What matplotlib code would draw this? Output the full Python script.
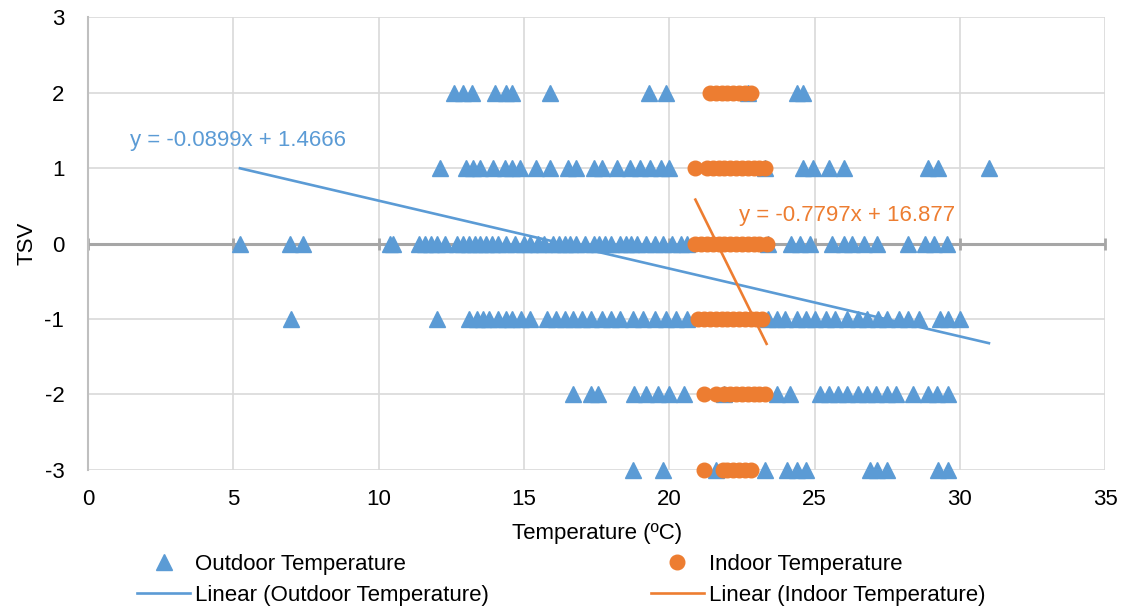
import numpy as np
import matplotlib.pyplot as plt

plt.rcParams['font.family'] = ['Liberation Sans', 'DejaVu Sans']
plt.rcParams['axes.unicode_minus'] = False

# TSV level -> outdoor temperatures
out_x = {
    2: [12.6, 12.9, 13.2, 14.0, 14.4, 14.6, 15.9, 19.3, 19.9, 22.7, 24.4, 24.6],
    1: [12.1, 13.0, 13.25, 13.5, 13.95, 14.35, 14.6, 14.85, 15.4, 15.9, 16.5, 16.8,
        17.4, 17.7, 18.2, 18.65, 19.0, 19.35, 19.7, 20.0, 23.3, 24.6, 24.95, 25.5,
        26.0, 28.9, 29.25, 31.0],
    0: [5.23, 6.95, 7.4, 10.4, 10.5, 11.4, 11.6, 11.8, 12.0, 12.3, 12.7, 12.9, 13.1,
        13.3, 13.5, 13.7, 13.9, 14.1, 14.4, 14.7, 15.0, 15.2, 15.5, 15.7, 16.0, 16.2,
        16.4, 16.6, 16.8, 17.1, 17.4, 17.6, 17.8, 18.0, 18.3, 18.5, 18.7, 18.9, 19.2,
        19.5, 19.8, 20.1, 20.4, 20.6, 23.4, 24.2, 24.5, 24.85, 25.6, 26.0, 26.3, 26.7,
        27.15, 28.2, 28.8, 29.1, 29.55],
    -1: [7.0, 12.0, 13.1, 13.4, 13.6, 13.8, 14.1, 14.4, 14.6, 14.9, 15.2, 15.8, 16.1,
         16.4, 16.7, 17.0, 17.3, 17.7, 18.0, 18.3, 18.75, 19.1, 19.5, 19.9, 20.25,
         20.6, 23.4, 23.7, 24.0, 24.4, 24.7, 25.0, 25.4, 25.7, 26.1, 26.5, 26.8, 27.2,
         27.5, 27.9, 28.2, 28.6, 29.3, 29.6, 30.0],
    -2: [16.7, 17.3, 17.55, 18.8, 19.2, 19.6, 20.0, 20.5, 21.9, 23.7, 24.15, 25.2,
         25.5, 25.8, 26.1, 26.5, 26.8, 27.1, 27.5, 27.8, 28.4, 28.9, 29.2, 29.6],
    -3: [18.75, 19.8, 21.6, 23.3, 24.05, 24.4, 24.7, 26.9, 27.15, 27.5, 29.25, 29.6],
}

# TSV level -> indoor temperatures
in_x = {
    2: [21.4, 21.6, 21.8, 22.0, 22.2, 22.4, 22.6, 22.8],
    1: [20.9, 21.3, 21.5, 21.7, 21.9, 22.1, 22.3, 22.5, 22.7, 22.9, 23.1, 23.3],
    0: [20.9, 21.1, 21.3, 21.5, 21.7, 21.9, 22.1, 22.3, 22.5, 22.7, 22.9, 23.1,
        23.35],
    -1: [21.0, 21.2, 21.4, 21.6, 21.8, 22.0, 22.2, 22.4, 22.6, 22.8, 23.0, 23.2],
    -2: [21.2, 21.6, 21.9, 22.1, 22.3, 22.5, 22.7, 22.9, 23.1, 23.3],
    -3: [21.2, 21.85, 22.0, 22.2, 22.4, 22.6, 22.8],
}

# trendline coefficients (slope, intercept) as shown on the chart
out_fit = (-0.0899, 1.4666)
in_fit = (-0.7797, 16.877)

blue = '#5B9BD5'
orange = '#ED7D31'
fs = 16

ox = np.concatenate([out_x[k] for k in out_x])
oy = np.concatenate([[k] * len(out_x[k]) for k in out_x])
ix = np.concatenate([in_x[k] for k in in_x])
iy = np.concatenate([[k] * len(in_x[k]) for k in in_x])

fig = plt.figure(figsize=(11.22, 6.08), dpi=100)
ax = fig.add_axes([0.0784, 0.227, 0.9066, 0.745])

h1, = ax.plot(ox, oy, ls='none', marker='^', ms=11, color=blue, zorder=3,
              clip_on=False, label='Outdoor Temperature')
h2, = ax.plot(ix, iy, ls='none', marker='o', ms=10.5, color=orange, zorder=4,
              clip_on=False, label='Indoor Temperature')

lx = np.array([ox.min(), ox.max()])
h3, = ax.plot(lx, out_fit[0] * lx + out_fit[1], color=blue, lw=1.9, zorder=5,
              label='Linear (Outdoor Temperature)')
lx2 = np.array([ix.min(), ix.max()])
h4, = ax.plot(lx2, in_fit[0] * lx2 + in_fit[1], color=orange, lw=1.9, zorder=5,
              label='Linear (Indoor Temperature)')

ax.text(1.45, 1.37, 'y = -0.0899x + 1.4666', color=blue, fontsize=fs, va='center')
ax.text(22.4, 0.37, 'y = -0.7797x + 16.877', color=orange, fontsize=fs, va='center')

ax.set_xlim(0, 35)
ax.set_ylim(-3, 3)
ax.set_xticks(range(0, 36, 5))
ax.set_yticks(range(-3, 4))
ax.grid(True, color='#D9D9D9', lw=1.2)
ax.set_axisbelow(True)
for s in ['top', 'right', 'bottom']:
    ax.spines[s].set_visible(False)
ax.spines['left'].set_color('#BFBFBF')
ax.spines['left'].set_linewidth(1.5)
ax.tick_params(length=0, labelsize=fs)
ax.tick_params(axis='x', pad=14)
ax.tick_params(axis='y', pad=17)

# horizontal axis crosses at 0
ax.axhline(0, color='#A6A6A6', lw=2.2, zorder=2)
ax.plot(range(0, 36, 5), [0] * 8, ls='none', marker='|', ms=9, mew=2,
        color='#A6A6A6', zorder=2, clip_on=False)

ax.set_xlabel('Temperature (ºC)', fontsize=fs, labelpad=9)
ax.set_ylabel('TSV', fontsize=fs, labelpad=5)

fig.legend(handles=[h1, h3, h2, h4], ncol=2, loc='center', bbox_to_anchor=(0.50, 0.046),
           frameon=False, fontsize=fs, columnspacing=7.3, handlelength=2.4,
           handletextpad=0.2, labelspacing=0.45, borderpad=0)

fig.savefig('out.png', dpi=100)
